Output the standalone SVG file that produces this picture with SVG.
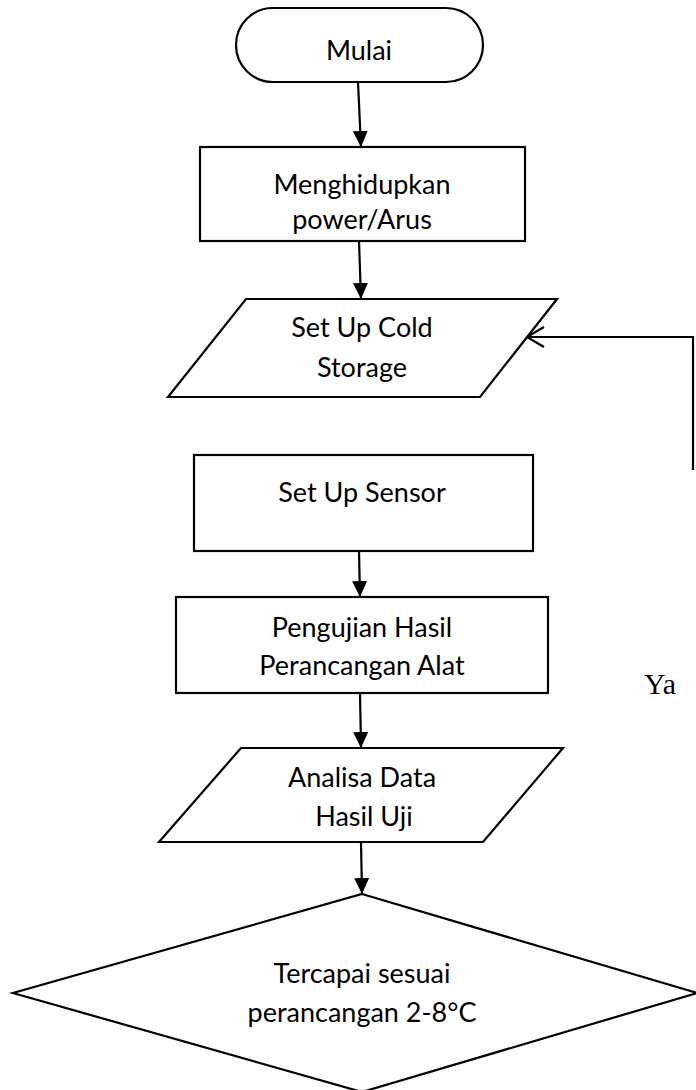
<svg xmlns="http://www.w3.org/2000/svg" width="696" height="1090" viewBox="0 0 696 1090">
<style>
.s{fill:#fff;stroke:#000;stroke-width:2.2}
.t{font-family:Lato,"Carlito","Liberation Sans",sans-serif;font-size:27px;fill:#000;text-anchor:middle}
.ya{font-family:"Liberation Serif",serif;font-size:30px;fill:#000}
.c{fill:none;stroke:#000;stroke-width:2.2}
</style>
<defs>
<marker id="ah" markerUnits="userSpaceOnUse" markerWidth="16" markerHeight="16" viewBox="0 0 16 16" refX="16" refY="8" orient="auto">
<path d="M0,0.5 L16,8 L0,15.5 Z" fill="#000"/>
</marker>
</defs>
<rect width="696" height="1090" fill="#fff"/>
<g id="connectors">
<line class="c" x1="358" y1="82" x2="361" y2="147" marker-end="url(#ah)"/>
<line class="c" x1="359" y1="241" x2="361" y2="299" marker-end="url(#ah)"/>
<line class="c" x1="359" y1="551" x2="360" y2="597" marker-end="url(#ah)"/>
<line class="c" x1="360" y1="693" x2="361" y2="748" marker-end="url(#ah)"/>
<line class="c" x1="361" y1="842" x2="362" y2="894" marker-end="url(#ah)"/>
<polyline class="c" points="693,470 693,337 527,337"/>
<polyline class="c" points="544,327 527,337 544,347"/>
</g>
<g id="mulai">
<rect class="s" x="236" y="8" width="247" height="74" rx="37"/>
<text class="t" x="359" y="60">Mulai</text>
</g>
<g id="power">
<rect class="s" x="200" y="147" width="325" height="94"/>
<text class="t" x="362" y="194">Menghidupkan</text>
<text class="t" x="362" y="229">power/Arus</text>
</g>
<g id="coldstorage">
<polygon class="s" points="246,299 557,299 480,397 168,397"/>
<text class="t" x="362" y="337">Set Up Cold</text>
<text class="t" x="362" y="377">Storage</text>
</g>
<g id="sensor">
<rect class="s" x="194" y="455" width="339" height="96"/>
<text class="t" x="362" y="502">Set Up Sensor</text>
</g>
<g id="pengujian">
<rect class="s" x="176" y="597" width="372" height="96"/>
<text class="t" x="362" y="637">Pengujian Hasil</text>
<text class="t" x="362" y="675">Perancangan Alat</text>
</g>
<g id="analisa">
<polygon class="s" points="241,748 563,748 483,842 159,842"/>
<text class="t" x="362" y="787">Analisa Data</text>
<text class="t" x="364" y="826">Hasil Uji</text>
</g>
<g id="keputusan">
<polygon class="s" points="362,894 697,993 362,1092 13,993"/>
<text class="t" x="362" y="983">Tercapai sesuai</text>
<text class="t" x="362" y="1022">perancangan 2-8°C</text>
</g>
<g id="label-ya">
<text class="ya" x="644" y="694">Ya</text>
</g>
</svg>
